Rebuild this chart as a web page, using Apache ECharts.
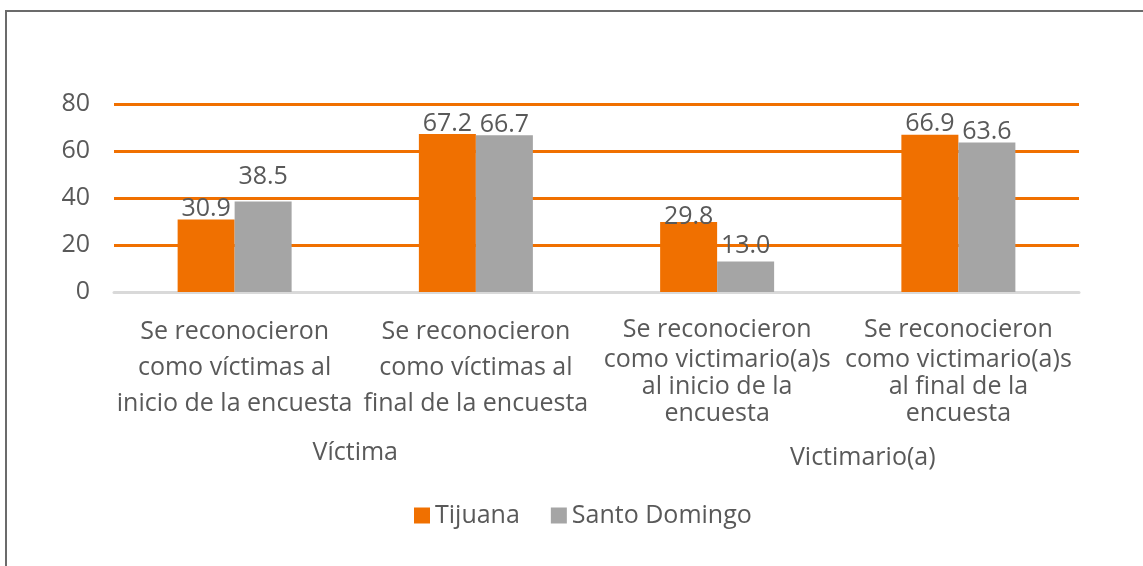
<!DOCTYPE html>
<html>
<head>
<meta charset="utf-8">
<script src="https://cdn.jsdelivr.net/npm/echarts@6/dist/echarts.min.js"></script>
<style>
  html, body { margin: 0; padding: 0; background: #fff; }
  #main { width: 1143px; height: 566px; }
</style>
</head>
<body>
<div id="main"></div>
<script>
var categorias = [
	'Se reconocieron\ncomo víctimas al\ninicio de la encuesta',
	'Se reconocieron\ncomo víctimas al\nfinal de la encuesta',
	'Se reconocieron\ncomo victimario(a)s\nal inicio de la\nencuesta',
	'Se reconocieron\ncomo victimario(a)s\nal final de la\nencuesta'
];
var grupos = ['Víctima', 'Victimario(a)'];
var tijuana = [30.9, 67.2, 29.8, 66.9];
var santoDomingo = [38.5, 66.7, 13.0, 63.6];

var fuente = '"Open Sans", "Liberation Sans", sans-serif';
var gris = '#595959';
var tam = 25;

// etiquetas movidas a mano como en el original
function conEtiquetas(valores, desplaz) {
	var d = [];
	for (var i = 0; i < valores.length; i++) {
		var item = { value: valores[i] };
		if (desplaz[i]) item.label = { offset: [0, desplaz[i]] };
		d.push(item);
	}
	return d;
}

var etiquetaBarra = {
	show: true, position: 'top', distance: -2,
	color: gris, fontSize: tam, fontFamily: fuente,
	formatter: function (p) { return p.value.toFixed(1); }
};

var eChart = echarts.init(document.getElementById('main'));
var option = {
	textStyle: { fontFamily: fuente },
	animation: false,
	grid: { left: 114, right: 64, top: 104, bottom: 274 },
	legend: {
		bottom: 33,
		left: 409,
		itemWidth: 16,
		itemHeight: 16,
		itemGap: 31,
		icon: 'rect',
		textStyle: { fontSize: tam, color: gris, fontFamily: fuente },
		data: ['Tijuana', 'Santo Domingo']
	},
	graphic: [{
		type: 'rect',
		shape: { x: 6, y: 11, width: 1300, height: 700 },
		style: { fill: 'none', stroke: '#6b6b6b', lineWidth: 2 },
		silent: true
	}],
	xAxis: [
		{
			type: 'category',
			data: categorias,
			axisLine: { show: true, lineStyle: { color: '#d9d9d9', width: 3 } },
			axisTick: { show: false },
			axisLabel: {
				interval: 0,
				margin: 22,
				color: gris,
				fontSize: tam,
				fontFamily: fuente,
				align: 'center',
				formatter: function (v, i) {
					var lineas = v.split('\n');
					if (i < 2) {
						return lineas.map(function (l) { return '{a|' + l + '}'; }).join('\n');
					}
					return lineas.map(function (l, k) {
						return (k === 0 ? '{c|' : '{b|') + l + '}';
					}).join('\n');
				},
				rich: {
					a: { fontSize: tam, color: gris, fontFamily: fuente, lineHeight: 36 },
					b: { fontSize: tam, color: gris, fontFamily: fuente, lineHeight: 27 },
					c: { fontSize: tam, color: gris, fontFamily: fuente, lineHeight: 32 }
				}
			}
		},
		{
			type: 'category',
			data: grupos,
			position: 'bottom',
			axisLine: { show: false },
			axisTick: { show: false },
			axisLabel: {
				interval: 0,
				margin: 148,
				color: gris,
				fontSize: tam,
				fontFamily: fuente,
				formatter: function (v, i) {
					return i === 0 ? '{a|' + v + '}' : '{b|' + v + '}';
				},
				rich: {
					a: { fontSize: tam, color: gris, fontFamily: fuente },
					b: { fontSize: tam, color: gris, fontFamily: fuente, padding: [5, 0, 0, 50] }
				}
			}
		}
	],
	yAxis: {
		type: 'value',
		min: 0,
		max: 80,
		interval: 20,
		axisLine: { show: false },
		axisTick: { show: false },
		axisLabel: { margin: 24, color: gris, fontSize: tam, fontFamily: fuente },
		splitLine: { lineStyle: { color: '#f07000', width: 3 } }
	},
	series: [
		{
			name: 'Tijuana',
			type: 'bar',
			data: conEtiquetas(tijuana, [0, 0, 5, 0]),
			barWidth: 57,
			barGap: '0%',
			itemStyle: { color: '#f07000' },
			label: etiquetaBarra
		},
		{
			name: 'Santo Domingo',
			type: 'bar',
			data: conEtiquetas(santoDomingo, [-14, 0, -5, 0]),
			barWidth: 57,
			barGap: '0%',
			itemStyle: { color: '#a5a5a5' },
			label: etiquetaBarra
		}
	]
};
eChart.setOption(option);
</script>
</body>
</html>
